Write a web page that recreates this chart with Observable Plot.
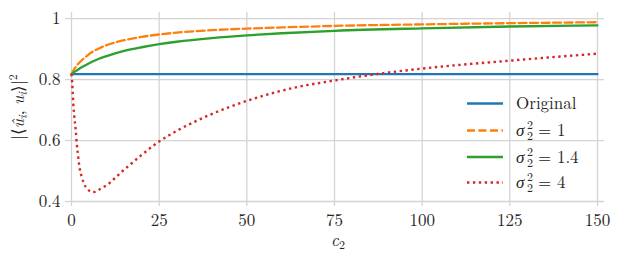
<!DOCTYPE html>
<html>
<head>
<meta charset="utf-8">
<script src="https://cdn.jsdelivr.net/npm/d3@7"></script>
<script src="https://cdn.jsdelivr.net/npm/@observablehq/plot@0.6"></script>
<style>
  html, body { margin: 0; padding: 0; background: #fff; }
  #wrap { position: relative; width: 622px; height: 262px; color: #262626; }
  #wrap, #wrap * { font-family: "Latin Modern Roman", "Liberation Serif", serif !important; }
  #legend { position: absolute; left: 0; top: 0; pointer-events: none; }
</style>
</head>
<body>
<div id="wrap"></div>
<script>
// ---- data ----
const seriesNames = ["Original", "σ2=1", "σ2=1.4", "σ2=4"];
const legendValues = ["", "1", "1.4", "4"];
const seriesColors = ["#1f77b4", "#ff7f0e", "#2ca02c", "#d62728"];
const xTicks = [0, 25, 50, 75, 100, 125, 150];
const yTicks = [0.4, 0.6, 0.8, 1];

const origC = [0, 150];
const origV = [0.818, 0.818];

const s1C = [0, 1, 2, 4, 6, 8, 10, 15, 20, 25, 30, 40, 50, 60, 75, 100, 125, 150];
const s1V = [0.818, 0.838, 0.853, 0.874, 0.891, 0.903, 0.913, 0.929, 0.940, 0.948, 0.954, 0.962, 0.967, 0.971, 0.976, 0.981, 0.985, 0.988];

const s14C = [0, 1, 2, 4, 6, 8, 10, 15, 20, 25, 30, 40, 50, 60, 75, 100, 125, 150];
const s14V = [0.818, 0.826, 0.834, 0.847, 0.859, 0.869, 0.877, 0.894, 0.906, 0.916, 0.924, 0.936, 0.945, 0.952, 0.960, 0.968, 0.974, 0.978];

const s4C = [0, 0.2, 0.5, 0.8, 1.2, 1.5, 1.9, 2.4, 2.9, 3.5, 4.5, 6, 7.7, 9.4, 11, 12.5, 14, 15.3, 19.6, 25, 30.7, 39.4, 50, 63.4, 75, 87, 100, 125, 150];
const s4V = [0.818, 0.79, 0.722, 0.679, 0.635, 0.59, 0.548, 0.504, 0.482, 0.46, 0.442, 0.43, 0.438, 0.449, 0.462, 0.478, 0.494, 0.507, 0.549, 0.597, 0.636, 0.684, 0.730, 0.773, 0.797, 0.818, 0.836, 0.862, 0.885];

const toRows = (cs, vs) => cs.map((c, i) => ({c, v: vs[i]}));
const orig = toRows(origC, origV);
const s1 = toRows(s1C, s1V);
const s14 = toRows(s14C, s14V);
const s4 = toRows(s4C, s4V);

const gridColor = "#d4d4d4";
const FONT = "'Latin Modern Roman', 'Liberation Serif', serif";
const dashes = [null, "8,3.5", null, "2.4,3.5"];

const chart = Plot.plot({
  width: 622,
  height: 262,
  marginLeft: 71,
  marginRight: 18,
  marginTop: 12,
  marginBottom: 61,
  style: { fontFamily: FONT, fontSize: "17px", color: "#262626", background: "white" },
  x: { domain: [0, 152] },
  y: { domain: [0.4, 1.02] },
  marks: [
    Plot.gridX(xTicks, { stroke: gridColor, strokeOpacity: 1, strokeWidth: 1.3 }),
    Plot.gridY(yTicks, { stroke: gridColor, strokeOpacity: 1, strokeWidth: 1.3 }),
    Plot.axisX(xTicks, { tickSize: 5, tickPadding: 7, stroke: gridColor, strokeWidth: 1.3, fill: "#262626", fontSize: 17,
      tickFormat: d => String(d), label: "c2", labelAnchor: "center", labelOffset: 44, labelArrow: "none" }),
    Plot.axisY(yTicks, { tickSize: 6, tickPadding: 5, stroke: gridColor, strokeWidth: 1.3, fill: "#262626", fontSize: 17,
      tickFormat: d => d === 1 ? "1" : d.toFixed(1), label: "u", labelAnchor: "center", labelOffset: 60, labelArrow: "none" }),
    Plot.line(orig, { x: "c", y: "v", stroke: seriesColors[0], strokeWidth: 2.3 }),
    Plot.line(s1, { x: "c", y: "v", stroke: seriesColors[1], strokeWidth: 2.3, strokeDasharray: dashes[1], curve: "monotone-x" }),
    Plot.line(s14, { x: "c", y: "v", stroke: seriesColors[2], strokeWidth: 2.3, curve: "monotone-x" }),
    Plot.line(s4, { x: "c", y: "v", stroke: seriesColors[3], strokeWidth: 2.4, strokeDasharray: dashes[3], strokeLinecap: "butt", curve: "monotone-x" })
  ]
});

const wrap = document.getElementById("wrap");
wrap.appendChild(chart);

// math-style axis labels
function mathLabel(textSel, parts) {
  textSel.text(null);
  parts.forEach(p => {
    const t = textSel.append("tspan").text(p.t);
    if (p.i) t.attr("font-style", "italic");
    if (p.s) t.attr("font-size", p.s);
    if (p.dy) t.attr("dy", p.dy);
  });
}
mathLabel(d3.select(chart).select("g[aria-label='x-axis label'] text"), [
  {t: "c", i: true}, {t: "2", s: 12, dy: 3}
]);
mathLabel(d3.select(chart).select("g[aria-label='y-axis label'] text"), [
  {t: "|⟨"}, {t: "û", i: true}, {t: "i", i: true, s: 12, dy: 3}, {t: ", ", dy: -3}, {t: "u", i: true},
  {t: "i", i: true, s: 12, dy: 3}, {t: "⟩|", dy: -3}, {t: "2", s: 12, dy: -7}
]);

// legend (SVG overlay)
const leg = d3.select(wrap).append("svg").attr("id", "legend").attr("width", 622).attr("height", 262);
const rowY = [103.5, 130.5, 157, 182.5];
seriesNames.forEach((name, i) => {
  const g = leg.append("g").attr("transform", `translate(0,${rowY[i]})`);
  const ln = g.append("line").attr("x1", 467).attr("x2", 503).attr("y1", 0).attr("y2", 0)
    .attr("stroke", seriesColors[i]).attr("stroke-width", 2.3);
  if (dashes[i]) ln.attr("stroke-dasharray", dashes[i]);
  const t = g.append("text").attr("x", 516).attr("y", 5.5).attr("font-size", 17).attr("fill", "#262626");
  if (i === 0) {
    t.text(name);
  } else {
    t.append("tspan").attr("font-style", "italic").text("σ");
    t.append("tspan").attr("x", 527).attr("dy", -7).attr("font-size", 12).text("2");
    t.append("tspan").attr("x", 527).attr("dy", 11).attr("font-size", 12).text("2");
    t.append("tspan").attr("x", 538).attr("dy", -4).text("= " + legendValues[i]);
  }
});
</script>
</body>
</html>
